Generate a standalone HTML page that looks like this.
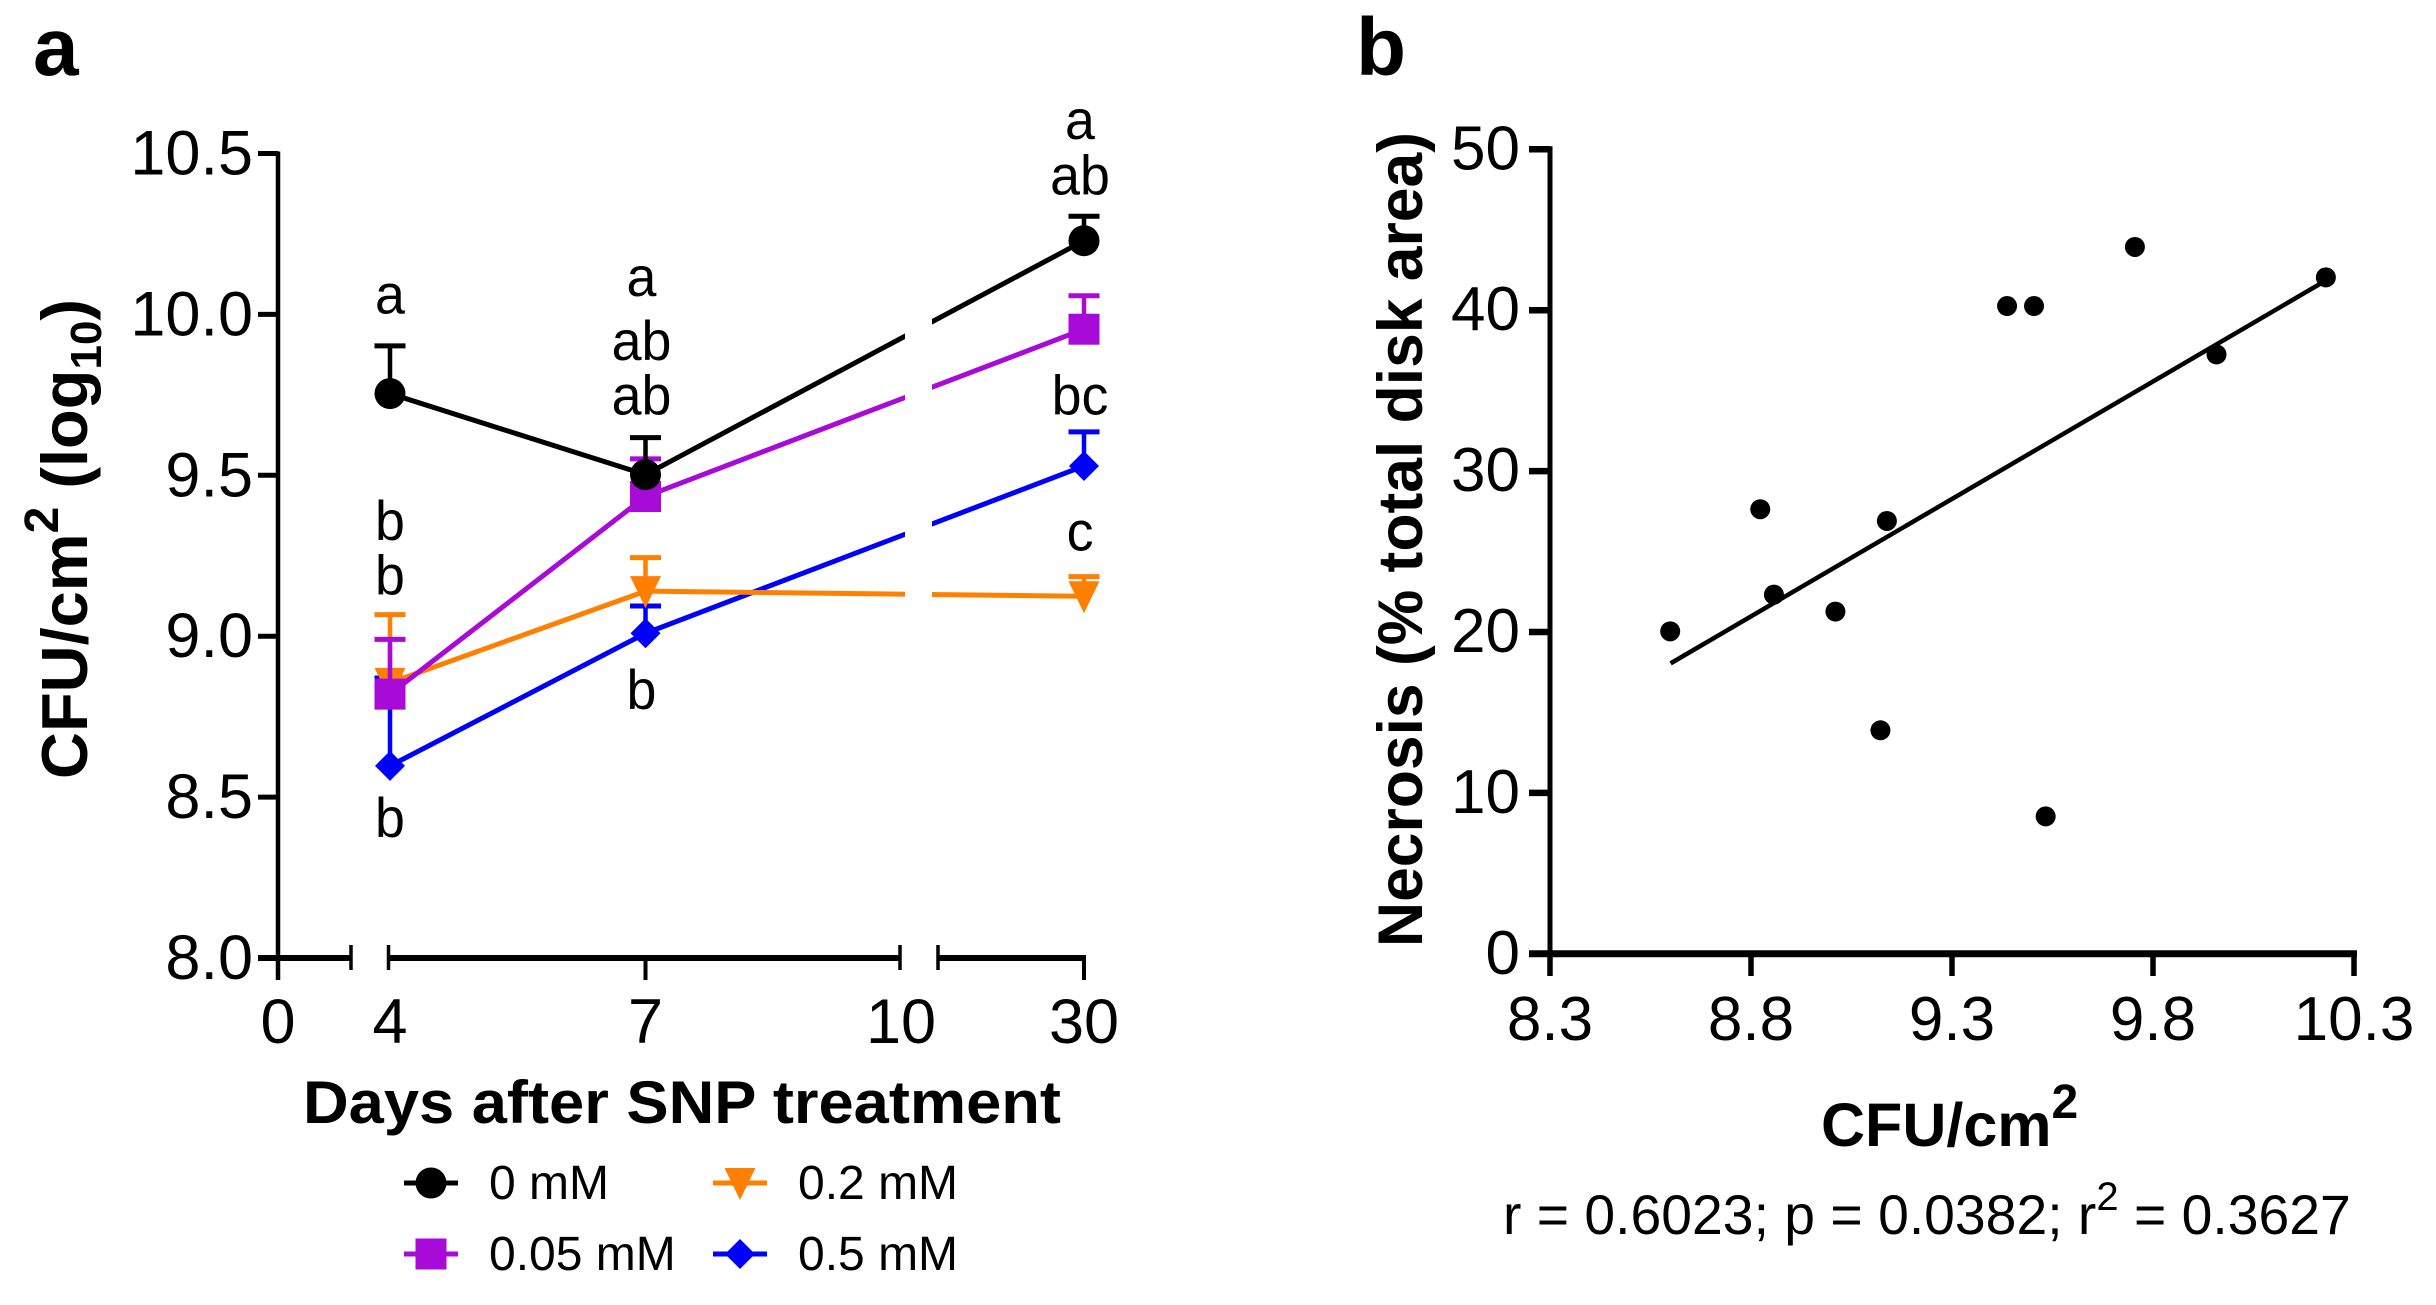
<!DOCTYPE html>
<html lang="en">
<head>
<meta charset="utf-8">
<title>CFU and necrosis after SNP treatment</title>
<style>
html,body{margin:0;padding:0;background:#fff;}
svg{display:block;}
text{font-family:"Liberation Sans",sans-serif;fill:#000;}
</style>
</head>
<body>
<svg id="chart" xmlns="http://www.w3.org/2000/svg" width="2436" height="1305" viewBox="0 0 2436 1305">
  <defs>
    <clipPath id="break-clip"><rect x="0" y="0" width="905" height="1305"/><rect x="932" y="0" width="1504" height="1305"/></clipPath>
  </defs>
  <rect x="0" y="0" width="2436" height="1305" fill="#fff"/>
  <text x="33" y="75" font-size="82" font-weight="700">a</text>
  <text x="1356" y="75" font-size="82" font-weight="700">b</text>

  <g id="panel-a"></g>
  <g id="panel-b"></g>

  <text transform="translate(87,779) rotate(-90)" font-size="65" font-weight="700">CFU/cm<tspan font-size="48" dy="-29">2</tspan><tspan dy="29"> (log</tspan><tspan font-size="44" dy="14">10</tspan><tspan dy="-14">)</tspan></text>
  <text x="303" y="1123" font-size="60" font-weight="700" textLength="758" lengthAdjust="spacingAndGlyphs">Days after SNP treatment</text>

  <text transform="translate(1422,947) rotate(-90)" font-size="63" font-weight="700" textLength="815" lengthAdjust="spacingAndGlyphs">Necrosis (% total disk area)</text>
  <text x="1821" y="1146" font-size="61" font-weight="700">CFU/cm<tspan font-size="48" dy="-28">2</tspan></text>
  <text x="1503" y="1234" font-size="55.3">r = 0.6023; p = 0.0382; r<tspan font-size="40" dy="-24">2</tspan><tspan dy="24"> = 0.3627</tspan></text>
</svg>
<script>
// Panel a data
const days = [4, 7, 30];
const seriesNames = ["0 mM", "0.05 mM", "0.2 mM", "0.5 mM"];
const seriesColors = ["#000000", "#a80ad8", "#ff8000", "#0000ff"];
const seriesKeys = ["0-mm", "0-05-mm", "0-2-mm", "0-5-mm"];
const means0 = [9.754, 9.502, 10.229];
const means005 = [8.82, 9.434, 9.954];
const means02 = [8.855, 9.14, 9.124];
const means05 = [8.597, 9.009, 9.529];
const errTop0 = [9.902, 9.617, 10.305];
const errTop005 = [8.99, 9.551, 10.058];
const errTop02 = [9.067, 9.244, 9.185];
const errTop05 = [8.87, 9.094, 9.635];
const yTicksA = [8.0, 8.5, 9.0, 9.5, 10.0, 10.5];
const yTickLabelsA = ["8.0", "8.5", "9.0", "9.5", "10.0", "10.5"];
const xTicksA = [0, 4, 7, 10, 30];
const sigDays = [4, 4, 4, 4, 7, 7, 7, 7, 30, 30, 30, 30];
const sigLabels = ["a", "b", "b", "b", "a", "ab", "ab", "b", "a", "ab", "bc", "c"];
const sigValues = [10.003, 9.299, 9.129, 8.376, 10.057, 9.858, 9.689, 8.774, 10.545, 10.373, 9.689, 9.266];

// Panel b data
const pointsX = [8.599, 8.823, 8.857, 9.01, 9.138, 9.437, 9.504, 9.755, 9.958, 10.23, 9.122, 9.533];
const pointsY = [20.04, 27.63, 22.32, 21.27, 26.9, 40.26, 40.26, 43.93, 37.25, 42.04, 13.89, 8.54];
const fitX = [8.6, 10.22];
const fitY = [18.05, 41.7];
const xTicksB = [8.3, 8.8, 9.3, 9.8, 10.3];
const xTickLabelsB = ["8.3", "8.8", "9.3", "9.8", "10.3"];
const yTicksB = [0, 10, 20, 30, 40, 50];

const NS = "http://www.w3.org/2000/svg";
const panelA = document.getElementById("panel-a");
const panelB = document.getElementById("panel-b");

function mk(parent, tag, attrs) {
  const n = document.createElementNS(NS, tag);
  for (const k in attrs) n.setAttribute(k, attrs[k]);
  parent.appendChild(n);
  return n;
}
function mkText(parent, x, y, str, size, anchor, sx) {
  const n = mk(parent, "text", {
    transform: "translate(" + x + "," + y + ") scale(" + sx + ",1)",
    "font-size": size,
    "text-anchor": anchor
  });
  n.textContent = str;
  return n;
}
function xA(d) {
  if (d <= 4) return 278 + d * 28;
  if (d <= 10) return 390 + (d - 4) * 85.17;
  return 938 + (d - 10) * 7.3;
}
function yA(v) { return 958 - (v - 8) * 321.8; }
function xB(v) { return 1550 + (v - 8.3) * 402; }
function yB(v) { return 953.8 - v * 16.09; }

function drawMarker(parent, kind, cx, cy, color) {
  if (kind === 0) return mk(parent, "circle", {cx: cx, cy: cy, r: 15.5, fill: color});
  if (kind === 1) return mk(parent, "rect", {x: cx - 15.5, y: cy - 15.5, width: 31, height: 31, fill: color});
  if (kind === 2) return mk(parent, "polygon", {points: (cx - 15.5) + "," + (cy - 15) + " " + (cx + 15.5) + "," + (cy - 15) + " " + cx + "," + (cy + 17), fill: color});
  return mk(parent, "polygon", {points: cx + "," + (cy - 15) + " " + (cx + 15) + "," + cy + " " + cx + "," + (cy + 15) + " " + (cx - 15) + "," + cy, fill: color});
}

// Panel a axes
const yAxisA = mk(panelA, "line", {x1: 278, x2: 278, y1: yA(10.5) - 2, y2: 980, stroke: "#000", "stroke-width": 4.5});



const axisSegments = [[258, 351], [388.5, 900], [938, 1086]];
axisSegments.forEach(function (seg) {
  const s = mk(panelA, "line", {x1: seg[0], x2: seg[1], y1: 958, y2: 958, stroke: "#000", "stroke-width": 6});
  
  
});
[351, 388.5, 900, 938].forEach(function (bx) {
  const b = mk(panelA, "line", {x1: bx, x2: bx, y1: 945, y2: 970, stroke: "#000", "stroke-width": 3.5});
  
  
});
yTicksA.forEach(function (v, i) {
  const t = mk(panelA, "line", {x1: 258, x2: 278, y1: yA(v), y2: yA(v), stroke: "#000", "stroke-width": 5});
  
  
  const l = mkText(panelA, 253, yA(v) + 21, yTickLabelsA[i], 63, "end", 1);
  
  
});
xTicksA.forEach(function (d) {
  if (d === 7 || d === 30) {
    const t = mk(panelA, "line", {x1: xA(d), x2: xA(d), y1: 958, y2: 980, stroke: "#000", "stroke-width": 4});
    
    
  }
  const l = mkText(panelA, xA(d), 1043, String(d), 63, "middle", 1);
  
  
});

// Panel a series: drawn back to front
const allMeans = [means0, means005, means02, means05];
const allErr = [errTop0, errTop005, errTop02, errTop05];
[3, 2, 1, 0].forEach(function (si) {
  const color = seriesColors[si];
  const g = mk(panelA, "g", {});
  
  

  const pts = days.map(function (d, i) { return xA(d) + "," + yA(allMeans[si][i]); }).join(" ");
  const line = mk(g, "polyline", {points: pts, fill: "none", stroke: color, "stroke-width": 5, "clip-path": "url(#break-clip)"});
  
  

  days.forEach(function (d, i) {
    const cx = xA(d);
    const bar = mk(g, "line", {x1: cx, x2: cx, y1: yA(allMeans[si][i]), y2: yA(allErr[si][i]), stroke: color, "stroke-width": 4.5});
    
    
    const cap = mk(g, "line", {x1: cx - 15.5, x2: cx + 15.5, y1: yA(allErr[si][i]), y2: yA(allErr[si][i]), stroke: color, "stroke-width": 5});
    
    
    const m = drawMarker(g, si, cx, yA(allMeans[si][i]), color);
    
    
  });
});

// Significance letters
sigLabels.forEach(function (s, i) {
  const n = mkText(panelA, xA(sigDays[i]) + (sigDays[i] === 4 ? 0 : -4), yA(sigValues[i]), s, 56, "middle", 0.96);
  
  
});

// Legend
const legendX = [431, 431, 740, 740];
const legendY = [1183, 1254, 1183, 1254];
const legendOrder = [0, 1, 2, 3];
legendOrder.forEach(function (si, i) {
  const g = mk(panelA, "g", {});
  
  
  const ln = mk(g, "line", {x1: legendX[i] - 27, x2: legendX[i] + 27, y1: legendY[i], y2: legendY[i], stroke: seriesColors[si], "stroke-width": 5});
  
  
  const m = drawMarker(g, si, legendX[i], legendY[i], seriesColors[si]);
  
  
  const t = mkText(g, legendX[i] + 58, legendY[i] + 16, seriesNames[si], 48, "start", 1);
  
  
});

// Panel b axes
const yAxisB = mk(panelB, "line", {x1: 1550, x2: 1550, y1: yB(50) - 3, y2: 976, stroke: "#000", "stroke-width": 5});


const xAxisB = mk(panelB, "line", {x1: 1529, x2: 2357, y1: yB(0), y2: yB(0), stroke: "#000", "stroke-width": 7});


yTicksB.forEach(function (v) {
  if (v > 0) {
    const t = mk(panelB, "line", {x1: 1529, x2: 1550, y1: yB(v), y2: yB(v), stroke: "#000", "stroke-width": 6.5});
    
    
  }
  const l = mkText(panelB, 1520, yB(v) + 20, String(v), 62, "end", 1);
  
  
});
xTicksB.forEach(function (v, i) {
  const t = mk(panelB, "line", {x1: xB(v), x2: xB(v), y1: yB(0), y2: 976, stroke: "#000", "stroke-width": 5.5});
  
  
  const l = mkText(panelB, xB(v), 1040, xTickLabelsB[i], 62, "middle", 1);
  
  
});

// Panel b regression and points
const fit = mk(panelB, "line", {x1: xB(fitX[0]), y1: yB(fitY[0]), x2: xB(fitX[1]), y2: yB(fitY[1]), stroke: "#000", "stroke-width": 4.5});


pointsX.forEach(function (v, i) {
  const p = mk(panelB, "circle", {cx: xB(v), cy: yB(pointsY[i]), r: 10, fill: "#000"});
  
  
});
</script>
</body>
</html>
